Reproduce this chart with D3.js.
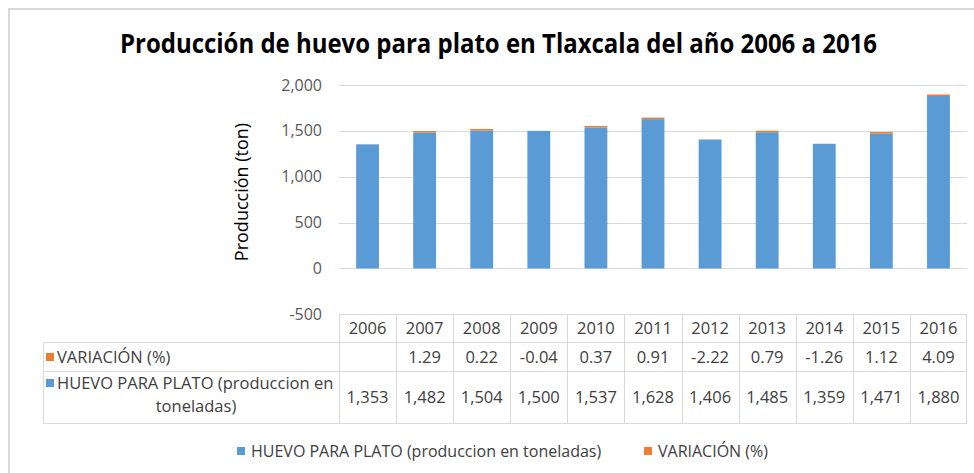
<!DOCTYPE html>
<html>
<head>
<meta charset="utf-8">
<script src="https://cdn.jsdelivr.net/npm/d3@7"></script>
<style>
  html, body { margin: 0; padding: 0; background: #fff; }
  svg text { font-family: "Open Sans", "Noto Sans", sans-serif; }
</style>
</head>
<body>
<div id="chart"></div>
<script>
// chart data
const years = ["2006", "2007", "2008", "2009", "2010", "2011", "2012", "2013", "2014", "2015", "2016"];
const huevo = [1353, 1482, 1504, 1500, 1537, 1628, 1406, 1485, 1359, 1471, 1880];
const variacion = [null, 1.29, 0.22, -0.04, 0.37, 0.91, -2.22, 0.79, -1.26, 1.12, 4.09];
const yTicks = [-500, 0, 500, 1000, 1500, 2000];

const titleText = "Producción de huevo para plato en Tlaxcala del año 2006 a 2016";
const yLabel = "Producción (ton)";
const huevoName = "HUEVO PARA PLATO (produccion en toneladas)";
const varName = "VARIACIÓN (%)";

const blue = "#5b9bd5";
const orange = "#ed7d31";
const gridColor = "#d9d9d9";
const textColor = "#404040";

const W = 974, H = 473;

// number formats with a plain hyphen as minus sign
const locale = d3.formatLocale({ decimal: ".", thousands: ",", grouping: [3], currency: ["$", ""], minus: "-" });
const fmtInt = locale.format(",");
const fmtPct = locale.format(".2f");

const $svg = d3.select("#chart").append("svg")
  .attr("width", W)
  .attr("height", H);

// outer chart border (right edge runs off the picture)
$svg.append("rect")
  .attr("x", 9).attr("y", 9)
  .attr("width", 1000).attr("height", 1000)
  .attr("fill", "#fff")
  .attr("stroke", gridColor)
  .attr("stroke-width", 2);

// squeeze text to a given width when it is too wide
function fit(sel, target) {
  const w = sel.node().getComputedTextLength();
  if (w > target) {
    sel.attr("textLength", target).attr("lengthAdjust", "spacingAndGlyphs");
  }
  return sel;
}

// title
fit($svg.append("text")
  .attr("x", 498.5).attr("y", 53)
  .attr("text-anchor", "middle")
  .attr("font-size", 26)
  .attr("font-weight", "bold")
  .attr("fill", "#000")
  .text(titleText), 757);

// scales
const plotLeft = 339, plotRight = 967;
const xScale = d3.scaleBand()
  .domain(years)
  .range([plotLeft, plotRight]);

const yScale = d3.scaleLinear()
  .domain([-500, 2000])
  .range([314.3, 85]);

// gridlines
$svg.append("g")
  .selectAll("line")
  .data(yTicks.filter(d => d > -500))
  .join("line")
  .attr("x1", plotLeft).attr("x2", plotRight)
  .attr("y1", d => Math.round(yScale(d)) + 0.5)
  .attr("y2", d => Math.round(yScale(d)) + 0.5)
  .attr("stroke", gridColor)
  .attr("stroke-width", 1);

// y axis tick labels
const yAxis = d3.axisLeft(yScale)
  .tickValues(yTicks)
  .tickFormat(fmtInt)
  .tickSize(0)
  .tickPadding(0);
const $yAxis = $svg.append("g")
  .attr("transform", "translate(322,0)")
  .call(yAxis);
$yAxis.select(".domain").remove();
$yAxis.selectAll("text")
  .attr("font-size", 16)
  .attr("fill", "#595959")
  .attr("font-family", "Open Sans");

// y axis label
fit($svg.append("text")
  .attr("transform", "translate(248,192) rotate(-90)")
  .attr("text-anchor", "middle")
  .attr("font-size", 18)
  .attr("fill", "#000")
  .text(yLabel), 165);

// bars
const barW = xScale.bandwidth() * 0.4;
const barX = d => xScale(d) + (xScale.bandwidth() - barW) / 2;

$svg.append("g")
  .selectAll("rect")
  .data(years)
  .join("rect")
  .attr("x", d => barX(d))
  .attr("width", barW)
  .attr("y", (d, i) => yScale(huevo[i]))
  .attr("height", (d, i) => yScale(0) - yScale(huevo[i]))
  .attr("fill", blue);

// variation stacked on top (only positive values show)
const segH = d => Math.max(yScale(huevo[d.i]) - yScale(huevo[d.i] + variacion[d.i]), 1.5);
$svg.append("g")
  .selectAll("rect")
  .data(years.map((y, i) => ({ y, i })).filter(d => variacion[d.i] > 0))
  .join("rect")
  .attr("x", d => barX(d.y))
  .attr("width", barW)
  .attr("height", segH)
  .attr("y", d => yScale(huevo[d.i]) - segH(d))
  .attr("fill", orange);

// data table
const rowTop = 314.5, row1 = 342.5, row2 = 371.5, rowBottom = 423.5, tableLeft = 43.5;
const $table = $svg.append("g")
  .attr("stroke", gridColor)
  .attr("stroke-width", 1);

$table.append("line").attr("x1", plotLeft).attr("x2", plotRight).attr("y1", rowTop).attr("y2", rowTop);
[row1, row2, rowBottom].forEach(y => {
  $table.append("line").attr("x1", tableLeft).attr("x2", plotRight).attr("y1", y).attr("y2", y);
});
$table.append("line").attr("x1", tableLeft).attr("x2", tableLeft).attr("y1", row1).attr("y2", rowBottom);
$table.selectAll(".col")
  .data(years)
  .join("line")
  .attr("x1", d => Math.round(xScale(d)) + 0.5)
  .attr("x2", d => Math.round(xScale(d)) + 0.5)
  .attr("y1", rowTop).attr("y2", rowBottom);
$table.append("line")
  .attr("x1", plotRight - 0.5).attr("x2", plotRight - 0.5)
  .attr("y1", rowTop).attr("y2", rowBottom);

const cx = d => xScale(d) + xScale.bandwidth() / 2;
const $cells = $svg.append("g")
  .attr("font-size", 16.5)
  .attr("fill", textColor)
  .attr("text-anchor", "middle");

$cells.selectAll(".yr")
  .data(years)
  .join("text")
  .attr("x", d => cx(d))
  .attr("y", 334)
  .text(d => d);

$cells.selectAll(".vr")
  .data(years)
  .join("text")
  .attr("x", d => cx(d))
  .attr("y", 363)
  .text((d, i) => variacion[i] == null ? "" : fmtPct(variacion[i]));

$cells.selectAll(".hv")
  .data(years)
  .join("text")
  .attr("x", d => cx(d))
  .attr("y", 403)
  .text((d, i) => fmtInt(huevo[i]));

// row headers
$svg.append("rect").attr("x", 46).attr("y", 353).attr("width", 8).attr("height", 8).attr("fill", orange);
fit($svg.append("text")
  .attr("x", 57).attr("y", 363)
  .attr("font-size", 16.5).attr("fill", textColor)
  .text(varName), 122);

$svg.append("rect").attr("x", 46).attr("y", 379).attr("width", 8).attr("height", 8).attr("fill", blue);
fit($svg.append("text")
  .attr("x", 57).attr("y", 389)
  .attr("font-size", 16.5).attr("fill", textColor)
  .text("HUEVO PARA PLATO (produccion en"), 277);
$svg.append("text")
  .attr("x", 196).attr("y", 412)
  .attr("text-anchor", "middle")
  .attr("font-size", 16.5).attr("fill", textColor)
  .text("toneladas)");

// legend
const $legend = $svg.append("g");
$legend.append("rect").attr("x", 237).attr("y", 447).attr("width", 8).attr("height", 8).attr("fill", blue);
fit($legend.append("text")
  .attr("x", 251).attr("y", 457)
  .attr("font-size", 16).attr("fill", textColor)
  .text(huevoName), 351);
$legend.append("rect").attr("x", 644).attr("y", 447).attr("width", 8).attr("height", 8).attr("fill", orange);
fit($legend.append("text")
  .attr("x", 658).attr("y", 457)
  .attr("font-size", 16).attr("fill", textColor)
  .text(varName), 114);
</script>
</body>
</html>
